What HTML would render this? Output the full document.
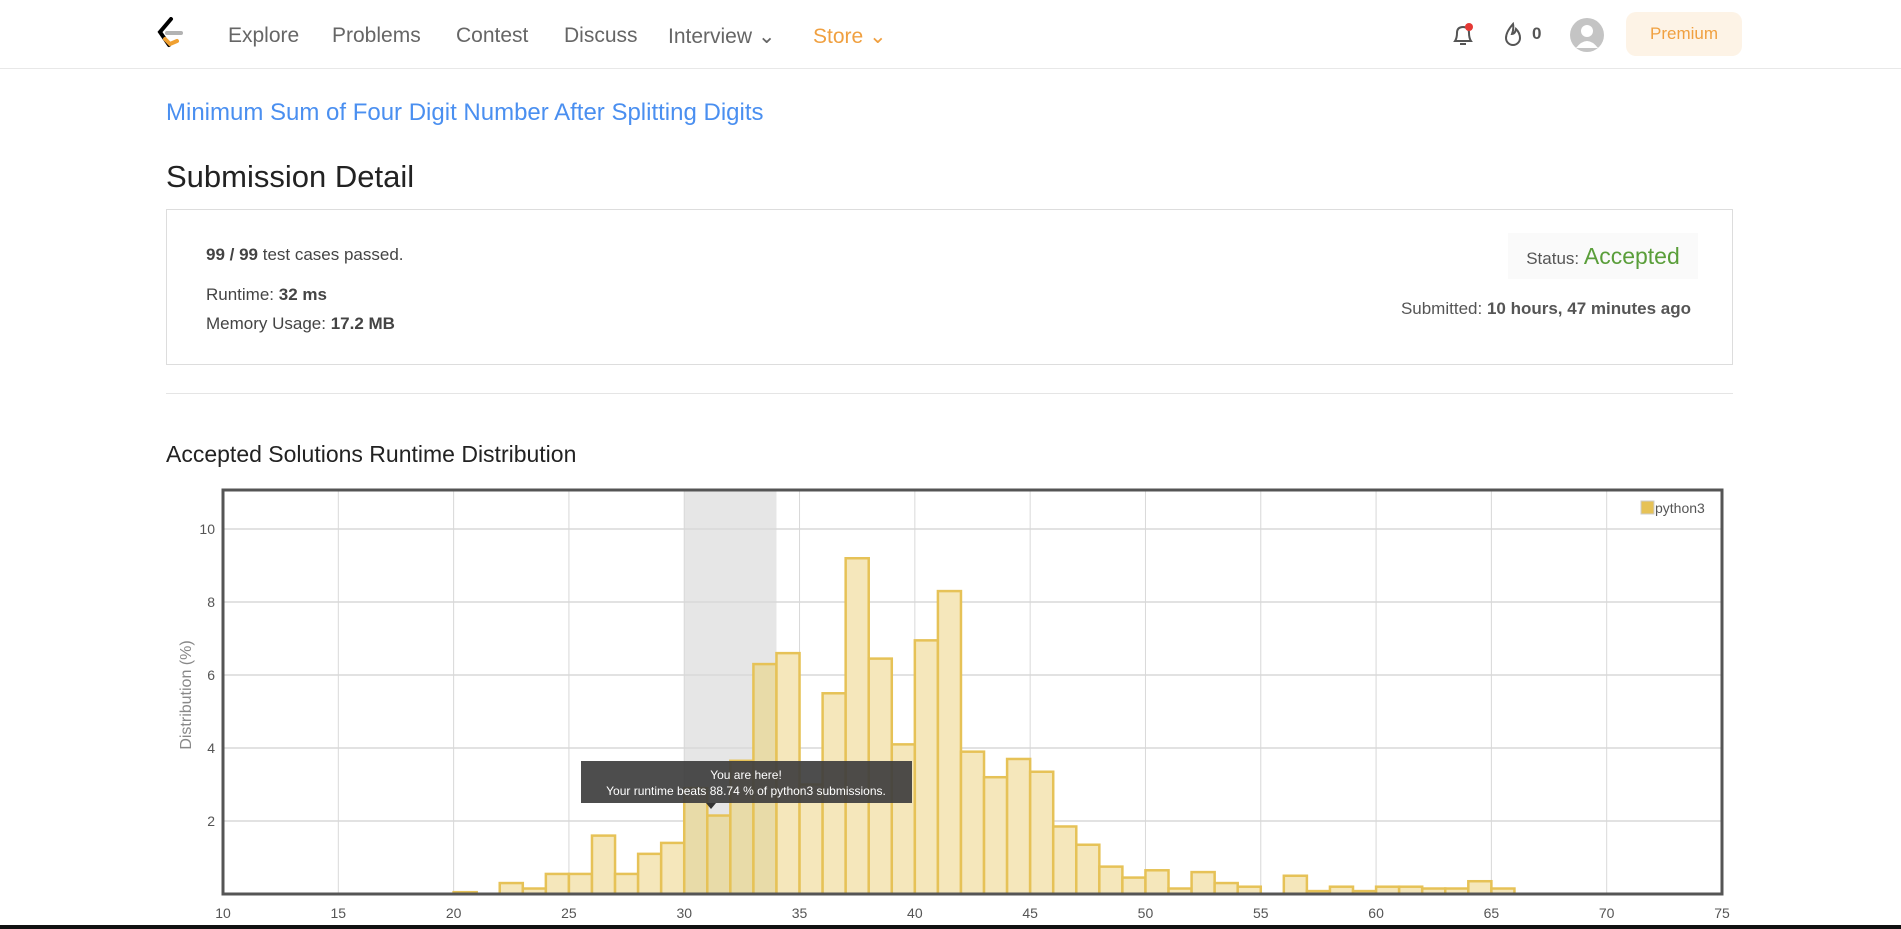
<!DOCTYPE html>
<html><head><meta charset="utf-8">
<style>
body{margin:0;width:1901px;height:929px;overflow:hidden;background:#fff;font-family:"Liberation Sans",sans-serif;position:relative}
.abs{position:absolute;white-space:nowrap}
.nav{top:24px;font-size:21px;color:#666}
</style></head><body>
<div class="abs" style="left:0;top:0;width:1901px;height:68px;border-bottom:1px solid #e8e8e8"></div>
<svg class="abs" style="left:155px;top:17px" width="30" height="32" viewBox="0 0 30 32"><path d="M16 2 L5 15 L14 28" stroke="#000" stroke-width="4" fill="none" stroke-linecap="round"/><path d="M10 22 L15 27 L22 24" stroke="#f0a030" stroke-width="4" fill="none" stroke-linecap="round"/><path d="M12 16 H26" stroke="#b3b3b3" stroke-width="4" stroke-linecap="round"/></svg>
<div class="abs nav" style="left:228px">Explore</div>
<div class="abs nav" style="left:332px">Problems</div>
<div class="abs nav" style="left:456px">Contest</div>
<div class="abs nav" style="left:564px">Discuss</div>
<div class="abs nav" style="left:668px">Interview ⌄</div>
<div class="abs nav" style="left:813px;color:#f0a040">Store ⌄</div>
<svg class="abs" style="left:1450px;top:22px" width="26" height="26" viewBox="0 0 26 26"><path d="M5 19 Q7 16 7 11 Q7 5 13 5 Q19 5 19 11 Q19 16 21 19 Z M10 22 H16" stroke="#555" stroke-width="2" fill="none"/><circle cx="19" cy="5" r="4" fill="#e53935"/></svg>
<svg class="abs" style="left:1502px;top:22px" width="22" height="26" viewBox="0 0 22 26"><path d="M11 2 Q4 10 4 16 A7 7 0 0 0 18 16 Q18 11 14 7 Q13 12 10 12 Q12 7 11 2Z" stroke="#555" stroke-width="2" fill="none"/></svg>
<div class="abs" style="left:1532px;top:24px;font-size:17px;color:#555;font-weight:bold">0</div>
<svg class="abs" style="left:1570px;top:18px" width="34" height="34" viewBox="0 0 34 34"><circle cx="17" cy="17" r="17" fill="#c4c4c4"/><circle cx="17" cy="13" r="6" fill="#fff"/><path d="M6 30 Q17 16 28 30 Z" fill="#fff"/></svg>
<div class="abs" style="left:1626px;top:12px;width:116px;height:44px;background:#fdf3e6;border-radius:10px;color:#f0a040;font-size:17px;text-align:center;line-height:44px">Premium</div>

<div class="abs" style="left:166px;top:99px;font-size:24px;color:#4a8ff0">Minimum Sum of Four Digit Number After Splitting Digits</div>
<div class="abs" style="left:166px;top:159px;font-size:31px;color:#222">Submission Detail</div>
<div class="abs" style="left:166px;top:209px;width:1565px;height:154px;border:1px solid #ddd"></div>
<div class="abs" style="left:206px;top:245px;font-size:17px;color:#444"><b>99 / 99</b> test cases passed.</div>
<div class="abs" style="left:206px;top:285px;font-size:17px;color:#444">Runtime: <b>32 ms</b></div>
<div class="abs" style="left:206px;top:314px;font-size:17px;color:#444">Memory Usage: <b>17.2 MB</b></div>
<div class="abs" style="left:1508px;top:233px;width:190px;height:46px;background:#fafafa;font-size:17px;color:#555;text-align:center;line-height:46px">Status: <span style="color:#5a9e3a;font-size:23px">Accepted</span></div>
<div class="abs" style="right:210px;top:299px;font-size:17px;color:#555">Submitted: <b>10 hours, 47 minutes ago</b></div>
<div class="abs" style="left:166px;top:393px;width:1567px;height:1px;background:#e5e5e5"></div>
<div class="abs" style="left:166px;top:441px;font-size:23px;color:#222">Accepted Solutions Runtime Distribution</div>

<svg class="abs" id="chart" style="left:0;top:0" width="1901" height="929"></svg>
<div class="abs" style="left:0;top:925px;width:1901px;height:4px;background:#111"></div>
<script>
const binStarts=[20,21,22,23,24,25,26,27,28,29,30,31,32,33,34,35,36,37,38,39,40,41,42,43,44,45,46,47,48,49,50,51,52,53,54,55,56,57,58,59,60,61,62,63,64,65];
const binValues=[0.05,0,0.3,0.15,0.55,0.55,1.6,0.55,1.1,1.4,2.9,2.15,3.65,6.3,6.6,3.0,5.5,9.2,6.45,4.1,6.95,8.3,3.9,3.2,3.7,3.35,1.85,1.35,0.75,0.45,0.65,0.15,0.6,0.3,0.2,0,0.5,0.08,0.2,0.08,0.2,0.2,0.15,0.15,0.35,0.15];
const xTicks=[10,15,20,25,30,35,40,45,50,55,60,65,70,75];
const yTicks=[2,4,6,8,10];
const highlight=[30,34];
const NS='http://www.w3.org/2000/svg';
const svg=document.getElementById('chart');
const L=223,R=1722,T=490,B=894,XMIN=10,XMAX=75,YMAX=11.07;
const xs=v=>L+(v-XMIN)/(XMAX-XMIN)*(R-L);
const ys=v=>B-v/YMAX*(B-T);
function mk(tag,a){const e=document.createElementNS(NS,tag);for(const k in a)e.setAttribute(k,a[k]);svg.appendChild(e);return e;}
let e;
e=mk('rect',{x:xs(highlight[0]),y:T,width:xs(highlight[1])-xs(highlight[0]),height:B-T,fill:'#e6e6e6'});


xTicks.forEach(t=>{
  if(t>XMIN&&t<XMAX){e=mk('line',{x1:xs(t),x2:xs(t),y1:T,y2:B,stroke:'#d8d8d8','stroke-width':1});
  
  }
  e=mk('text',{x:xs(t),y:918,'text-anchor':'middle','font-size':14,fill:'#555'});e.textContent=t;
  
  
});
yTicks.forEach(t=>{
  e=mk('line',{x1:L,x2:R,y1:ys(t),y2:ys(t),stroke:'#d8d8d8','stroke-width':1.5});
  
  
  e=mk('text',{x:L-8,y:ys(t)+5,'text-anchor':'end','font-size':14,fill:'#555'});e.textContent=t;
  
  
});
binStarts.forEach((s,i)=>{
  const v=binValues[i];if(v<=0)return;
  const inBand=s>=highlight[0]&&s<highlight[1];
  e=mk('rect',{x:xs(s),y:ys(v),width:xs(s+1)-xs(s),height:B-ys(v),fill:inBand?'#e8dba8':'#f5e7bb',stroke:'#e6c257','stroke-width':2.5});
  
  
});
e=mk('rect',{x:L,y:T,width:R-L,height:B-T,fill:'none',stroke:'#555','stroke-width':3});


e=mk('text',{x:0,y:0,transform:'translate(191,695) rotate(-90)','text-anchor':'middle','font-size':16,fill:'#888'});e.textContent='Distribution (%)';


e=mk('rect',{x:1641,y:501,width:13,height:13,fill:'#e6c257',stroke:'#ccc'});


e=mk('text',{x:1655,y:513,'font-size':14,fill:'#555'});e.textContent='python3';


e=mk('rect',{x:581,y:761,width:331,height:42,fill:'#3e3e3e','fill-opacity':0.92});


e=mk('path',{d:'M706 803 L716 803 L711 809 Z',fill:'#333'});


e=mk('text',{x:746,y:779,'text-anchor':'middle','font-size':12,fill:'#fff'});e.textContent='You are here!';


e=mk('text',{x:746,y:795,'text-anchor':'middle','font-size':12,fill:'#fff'});e.textContent='Your runtime beats 88.74 % of python3 submissions.';


</script>
</body></html>
